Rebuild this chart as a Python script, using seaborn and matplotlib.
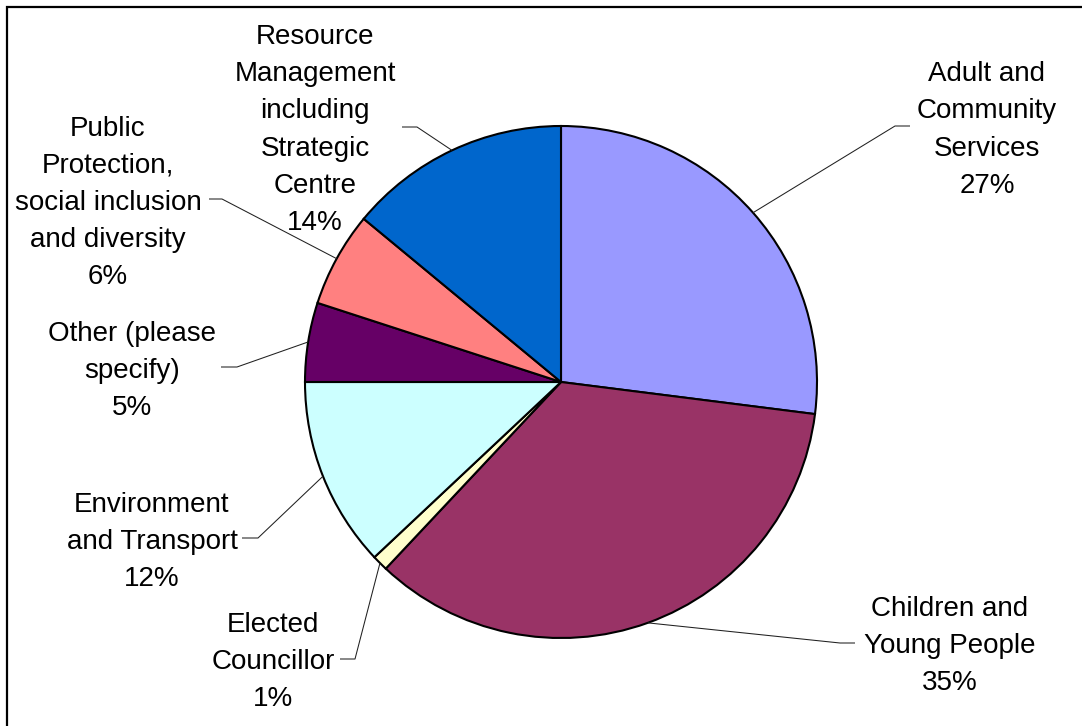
import numpy as np
import matplotlib
matplotlib.use("Agg")
import matplotlib.pyplot as plt
from matplotlib.patches import Rectangle
import seaborn as sns

# Respondents by directorate (percent)
categories = [
    "Adult and\nCommunity\nServices",
    "Children and\nYoung People",
    "Elected\nCouncillor",
    "Environment\nand Transport",
    "Other (please\nspecify)",
    "Public\nProtection,\nsocial inclusion\nand diversity",
    "Resource\nManagement\nincluding\nStrategic\nCentre",
]
values = [27, 35, 1, 12, 5, 6, 14]
colors = ["#9999FF", "#993366", "#FFFFCC", "#CCFFFF", "#660066", "#FF8080", "#0066CC"]

# Label layout in pixel units (origin top-left): text centre and leader end/elbow
label_centers = [(987, 130), (950, 646), (273, 662), (152, 542), (132, 371), (108, 203), (315, 130)]
leader_ends = [(910, 126), (855, 643), (340, 659), (242, 538), (221, 367), (209, 199), (402, 127)]
leader_elbows = [(895, 126), (840, 643), (355, 659), (258, 538), (237, 367), (222, 199), (417, 127)]

W, H = 1082, 726
CX, CY, R = 561, 382, 256

sns.set_theme(style="white")
plt.rcParams["font.family"] = ["Liberation Sans", "DejaVu Sans"]

fig = plt.figure(figsize=(W / 100, H / 100), dpi=100)
fig.patch.set_facecolor("white")
ax = fig.add_axes([0, 0, 1, 1])

ax.pie(
    values,
    colors=colors,
    startangle=90,
    counterclock=False,
    center=(CX, H - CY),
    radius=R,
    wedgeprops=dict(edgecolor="black", linewidth=1.5),
)
ax.set_xlim(0, W)
ax.set_ylim(0, H)
ax.set_aspect("equal")
ax.axis("off")

total = float(sum(values))
cum = np.cumsum([0] + values[:-1])
for i, (name, v) in enumerate(zip(categories, values)):
    theta = np.deg2rad(360.0 * (cum[i] + v / 2.0) / total)
    px = CX + R * np.sin(theta)
    py = (H - CY) + R * np.cos(theta)
    ex, ey = leader_elbows[i]
    tx, ty = leader_ends[i]
    ax.plot([px, ex, tx], [py, H - ey, H - ty], color="#202020", lw=0.75,
            solid_capstyle="butt")
    lx, ly = label_centers[i]
    ax.text(lx, H - ly, f"{name}\n{v}%", ha="center", va="center",
            multialignment="center", fontsize=20, linespacing=1.56, color="black")

# chart-area frame
fig.patches.append(Rectangle((7.3 / W, -0.05), 1.2, 1 - 7.3 / H + 0.05,
                             transform=fig.transFigure, fill=False,
                             edgecolor="black", linewidth=1.6))

fig.savefig("out.png", dpi=100)
